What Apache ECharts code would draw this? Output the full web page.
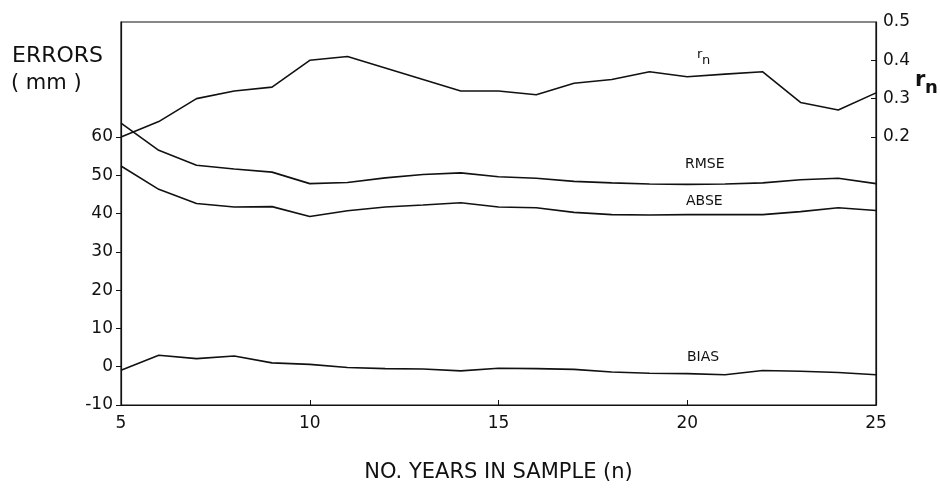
<!DOCTYPE html>
<html><head><meta charset="utf-8">
<script src="https://cdn.jsdelivr.net/npm/echarts@6/dist/echarts.min.js"></script>
<style>html,body{margin:0;padding:0;background:#fff}#c{width:940px;height:488px}</style>
</head><body><div id="c"></div>
<script>
var years = [5,6,7,8,9,10,11,12,13,14,15,16,17,18,19,20,21,22,23,24,25];
var rn    = [0.20,0.24,0.30,0.32,0.33,0.40,0.41,0.38,0.35,0.32,0.32,0.31,0.34,0.35,0.37,0.357,0.364,0.37,0.29,0.27,0.315];
var rmse  = [63.6,56.5,52.6,51.6,50.8,47.8,48.1,49.3,50.2,50.6,49.6,49.2,48.4,48.0,47.7,47.6,47.7,48.0,48.8,49.2,47.8];
var abse  = [52.4,46.3,42.6,41.7,41.8,39.2,40.7,41.7,42.2,42.8,41.7,41.5,40.3,39.7,39.6,39.7,39.7,39.7,40.5,41.5,40.8];
var bias  = [-0.9,3.0,2.1,2.8,1.0,0.6,-0.2,-0.5,-0.6,-1.1,-0.4,-0.5,-0.7,-1.4,-1.7,-1.8,-2.1,-1.0,-1.2,-1.5,-2.1];
var leftTicks  = [-10,0,10,20,30,40,50,60];
var rightTicks = [0.2,0.3,0.4,0.5];
var xTicks = [5,10,15,20,25];

function pairs(v){ return years.map(function(y,i){ return [y, v[i]]; }); }
var F = 'DejaVu Sans';
var ink = '#111';
var chart = echarts.init(document.getElementById('c'));
function line(name, v, yi){
  return { name:name, type:'line', yAxisIndex:yi, data:pairs(v), symbol:'none',
    lineStyle:{color:ink, width:1.6}, silent:true };
}
chart.setOption({
  backgroundColor:'#fff',
  animation:false,
  grid:{left:121, right:64, top:22, bottom:82, show:true, borderColor:ink, borderWidth:1.2},
  xAxis:{type:'value', min:5, max:25, interval:5,
    name:'NO. YEARS IN SAMPLE (n)', nameLocation:'middle', nameGap:57,
    nameTextStyle:{fontFamily:F, fontSize:21, color:ink},
    axisLine:{onZero:false, lineStyle:{color:ink, width:1.2}},
    axisTick:{inside:true, length:5, lineStyle:{color:ink}, customValues:[10,15,20]},
    axisLabel:{fontFamily:F, fontSize:17, color:ink, margin:10, customValues:xTicks},
    splitLine:{show:false}},
  yAxis:[
    {type:'value', min:-10, max:90, interval:10, position:'left',
      axisLine:{show:true, onZero:false, lineStyle:{color:ink, width:1.2}},
      axisTick:{show:true, length:5, lineStyle:{color:ink}, customValues:leftTicks},
      axisLabel:{fontFamily:F, fontSize:17, color:ink, margin:8, customValues:leftTicks},
      splitLine:{show:false}},
    {type:'value', min:-0.5, max:0.5, interval:0.1, position:'right',
      axisLine:{show:true, onZero:false, lineStyle:{color:ink, width:1.2}},
      axisTick:{show:true, inside:true, length:5, lineStyle:{color:ink}, customValues:[0.2,0.3,0.4]},
      axisLabel:{fontFamily:F, fontSize:17, color:ink, margin:7, customValues:rightTicks,
        formatter:function(v){ return v.toFixed(1); }},
      splitLine:{show:false}}
  ],
  series:[ line('rn', rn, 1), line('RMSE', rmse, 0), line('ABSE', abse, 0), line('BIAS', bias, 0) ],
  graphic:[
    {type:'text', left:12, top:45, style:{text:'ERRORS', font:'22px "DejaVu Sans"', fill:ink}},
    {type:'text', left:11, top:73, style:{text:'( mm )', font:'21px "DejaVu Sans"', fill:ink}},
    {type:'text', left:915, top:70, style:{text:'r', font:'bold 21px "DejaVu Sans"', fill:ink}},
    {type:'text', left:925, top:79, style:{text:'n', font:'bold 18px "DejaVu Sans"', fill:ink}},
    {type:'text', left:697, top:48, style:{text:'r', font:'13px "DejaVu Sans"', fill:ink}},
    {type:'text', left:702, top:54, style:{text:'n', font:'13px "DejaVu Sans"', fill:ink}},
    {type:'text', left:685, top:157, style:{text:'RMSE', font:'14px "DejaVu Sans"', fill:ink}},
    {type:'text', left:686, top:194, style:{text:'ABSE', font:'14px "DejaVu Sans"', fill:ink}},
    {type:'text', left:687, top:350, style:{text:'BIAS', font:'14px "DejaVu Sans"', fill:ink}}
  ]
});
</script></body></html>
